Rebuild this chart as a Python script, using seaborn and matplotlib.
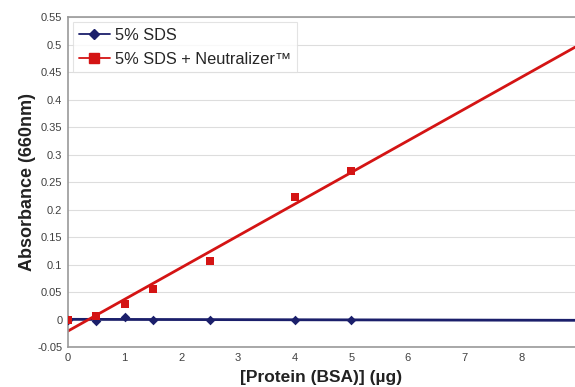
import numpy as np
import pandas as pd
import matplotlib
matplotlib.use("Agg")
import matplotlib.pyplot as plt
from matplotlib.lines import Line2D
import seaborn as sns

# BSA amount (ug) and absorbance at 660 nm
protein_ug = [0, 0.5, 1, 1.5, 2.5, 4, 5]
sds_only = [0.0, -0.002, 0.004, 0.0, 0.0, 0.0, -0.001]
sds_neutralizer = [0.0, 0.007, 0.028, 0.055, 0.107, 0.223, 0.270]

series_names = ["5% SDS", "5% SDS + Neutralizer\u2122"]
series_colors = ["#1b1f6b", "#d41414"]
series_markers = ["D", "s"]

y_ticks = [-0.05, 0, 0.05, 0.1, 0.15, 0.2, 0.25, 0.3, 0.35, 0.4, 0.45, 0.5, 0.55]
x_ticks = [0, 1, 2, 3, 4, 5, 6, 7, 8]

sns.set_theme(style="whitegrid")
plt.rcParams['font.family'] = ['Liberation Sans', 'DejaVu Sans']

df = pd.DataFrame({
    "x": protein_ug * 2,
    "y": sds_only + sds_neutralizer,
    "series": [series_names[0]] * len(protein_ug) + [series_names[1]] * len(protein_ug),
})

fig = plt.figure(figsize=(5.75, 3.87), dpi=100)
ax = fig.add_axes([0.118, 0.103, 0.882, 0.853])
ax.set_xlim(0, 8.95)
ax.set_ylim(-0.05, 0.55)

msizes = [24, 40]
for name, col, mk, ms in zip(series_names, series_colors, series_markers, msizes):
    sub = df[df["series"] == name]
    sns.regplot(data=sub, x="x", y="y", ax=ax, ci=None, truncate=False,
                marker=mk, color=col,
                scatter_kws={"s": ms, "linewidths": 0, "zorder": 3, "alpha": 1},
                line_kws={"lw": 2, "zorder": 2})

ax.set_xlim(0, 8.95)
ax.set_ylim(-0.05, 0.55)
ax.set_xticks(x_ticks)
ax.set_yticks(y_ticks)
ax.set_yticklabels([f"{v:g}" for v in y_ticks])
ax.tick_params(axis="both", labelsize=8, colors="#404040", length=0, pad=4)
ax.grid(axis="x", visible=False)
ax.grid(axis="y", color="#dddddd", lw=0.8)
ax.set_facecolor("white")
for side in ["left", "bottom", "top"]:
    ax.spines[side].set_color("#999999")
    ax.spines[side].set_linewidth(1.2)
ax.spines["right"].set_visible(False)

ax.set_xlabel("[Protein (BSA)] (\u00b5g)", fontsize=12.5, fontweight="bold",
              color="#222222", labelpad=5)
ax.set_ylabel("Absorbance (660nm)", fontsize=13, fontweight="bold",
              color="#222222", labelpad=1)

handles = [Line2D([0], [0], color=c, marker=m, markersize=ms, lw=1.3)
           for c, m, ms in zip(series_colors, series_markers, [5.5, 7])]
leg = ax.legend(handles, series_names, loc="upper left", fontsize=11.8,
                frameon=True, fancybox=False, handlelength=1.9,
                borderaxespad=0.3, labelspacing=0.55, handletextpad=0.3,
                borderpad=0.35)
leg.get_frame().set_edgecolor("#dddddd")
leg.get_frame().set_linewidth(0.8)

fig.savefig("out.png", dpi=100, facecolor="white")
